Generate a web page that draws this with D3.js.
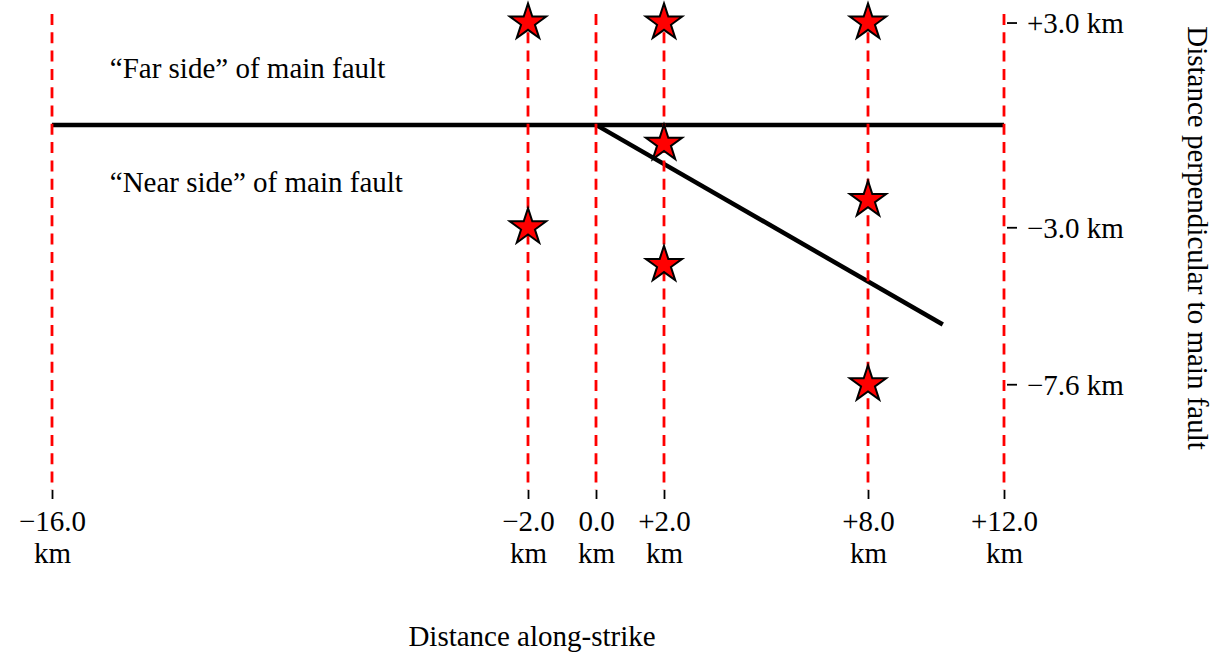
<!DOCTYPE html>
<html>
<head>
<meta charset="utf-8">
<script src="https://cdn.jsdelivr.net/npm/d3@7"></script>
<style>
  html, body { margin: 0; padding: 0; background: #fff; }
  svg { display: block; }
  text { font-family: "Liberation Serif", "Times New Roman", serif; font-size: 29px; fill: #000; }
</style>
</head>
<body>
<svg id="chart" width="1215" height="654"></svg>
<script>
// Along-strike positions of the profile lines (km)
const profileX = [-16, -2, 0, 2, 8, 12];
const profileXLabels = ["\u221216.0", "\u22122.0", "0.0", "+2.0", "+8.0", "+12.0"];

// Perpendicular distance ticks (km)
const perpTicks = [3, -3, -7.6];
const perpTickLabels = ["+3.0 km", "\u22123.0 km", "\u22127.6 km"];

// Station locations (along-strike, perpendicular), km
const stationX = [-2, -2, 2, 2, 2, 8, 8, 8];
const stationY = [3, -3, 3, -0.55, -4.1, 3, -2.2, -7.6];

// Fault traces
const mainFaultX = [-16, 12];
const mainFaultY = [0, 0];
const branchFaultX = [0, 10.2];
const branchFaultY = [0, -5.85];

// Side annotations (left edge x, baseline y), km
const sideLabels = ["\u201CFar side\u201D of main fault", "\u201CNear side\u201D of main fault"];
const sideLabelX = [-14.3, -14.3];
const sideLabelY = [1.38, -1.96];

const svg = d3.select("#chart");

const x = d3.scaleLinear().domain([-16, 12]).range([52, 1004]);
const y = d3.scaleLinear().domain([-10.7, 3.25]).range([490, 14]);

const plotTop = y.range()[1];
const plotBottom = y.range()[0];

const line = d3.line().x(d => x(d[0])).y(d => y(d[1]));

// Fault traces
svg.append("path")
  .attr("d", line(d3.zip(mainFaultX, mainFaultY)))
  .attr("fill", "none").attr("stroke", "#000").attr("stroke-width", 4.5);
svg.append("path")
  .attr("d", line(d3.zip(branchFaultX, branchFaultY)))
  .attr("fill", "none").attr("stroke", "#000").attr("stroke-width", 4.5);

// Dashed profile lines
svg.append("g").selectAll("line")
  .data(profileX)
  .join("line")
  .attr("x1", d => x(d)).attr("x2", d => x(d))
  .attr("y1", plotTop).attr("y2", plotBottom)
  .attr("stroke", "#ff0000")
  .attr("stroke-width", 2.8)
  .attr("stroke-dasharray", "11,7.3");

// Stations
const star = d3.symbol(d3.symbolStar, 410);
svg.append("g").selectAll("path")
  .data(d3.zip(stationX, stationY))
  .join("path")
  .attr("transform", d => `translate(${x(d[0])},${y(d[1])})`)
  .attr("d", star)
  .attr("fill", "#ff0000")
  .attr("stroke", "#000")
  .attr("stroke-width", 2)
  .attr("stroke-linejoin", "miter");

// Side annotations
svg.append("g").selectAll("text")
  .data(sideLabels)
  .join("text")
  .attr("x", (d, i) => x(sideLabelX[i]))
  .attr("y", (d, i) => y(sideLabelY[i]))
  .text(d => d);

// Bottom axis: ticks only, two-line labels
const xAxis = d3.axisBottom(x)
  .tickValues(profileX)
  .tickSize(9)
  .tickFormat((d, i) => profileXLabels[i]);
const gx = svg.append("g")
  .attr("transform", `translate(0,${plotBottom})`)
  .call(xAxis);
gx.select(".domain").remove();
gx.attr("font-size", null).attr("font-family", null);
gx.selectAll(".tick line").attr("stroke", "#000").attr("stroke-width", 1.8);
gx.selectAll(".tick text").each(function(d, i) {
  const t = d3.select(this);
  t.text(null).attr("dy", null).attr("y", null).attr("fill", "#000");
  t.append("tspan").attr("x", 0).attr("y", 41).text(profileXLabels[i]);
  t.append("tspan").attr("x", 0).attr("y", 73).text("km");
});

// Right axis: ticks only
const yAxis = d3.axisRight(y)
  .tickValues(perpTicks)
  .tickSize(10)
  .tickPadding(10)
  .tickFormat((d, i) => perpTickLabels[i]);
const gy = svg.append("g")
  .attr("transform", `translate(${x.range()[1] + 3},0)`)
  .call(yAxis);
gy.select(".domain").remove();
gy.attr("font-size", null).attr("font-family", null);
gy.selectAll(".tick line").attr("stroke", "#000").attr("stroke-width", 1.8);
gy.selectAll(".tick text").attr("fill", "#000").attr("dy", "0.35em");

// Axis titles
svg.append("text")
  .attr("x", 532).attr("y", 646)
  .attr("text-anchor", "middle")
  .text("Distance along-strike");
svg.append("text")
  .attr("transform", "translate(1188,238) rotate(90)")
  .attr("text-anchor", "middle")
  .text("Distance perpendicular to main fault");
</script>
</body>
</html>
